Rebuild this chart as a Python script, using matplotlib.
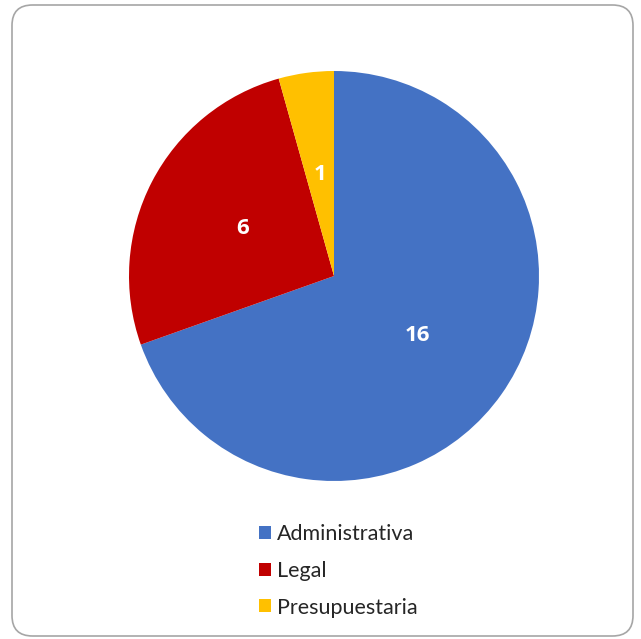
import matplotlib
matplotlib.use("Agg")
import matplotlib.pyplot as plt
from matplotlib.patches import FancyBboxPatch

categories = ["Administrativa", "Legal", "Presupuestaria"]
values = [16, 6, 1]
colors = ["#4472C4", "#C00000", "#FFC000"]

plt.rcParams['font.family'] = ['Lato', 'DejaVu Sans']

W, H = 641, 639
fig = plt.figure(figsize=(W / 100, H / 100), dpi=100)

# rounded border
border = FancyBboxPatch((12 / W, 3 / H), (633 - 12) / W, (635 - 4) / H,
                        boxstyle="round,pad=0,rounding_size=0.032",
                        transform=fig.transFigure, facecolor="none",
                        edgecolor="#A6A6A6", linewidth=1.2, zorder=5)
fig.patches.append(border)

cx, cy, r = 334, 276, 205
ax = fig.add_axes([(cx - r) / W, (H - cy - r) / H, 2 * r / W, 2 * r / H])
wedges, texts, autotexts = ax.pie(
    values, colors=colors, startangle=90, counterclock=False,
    autopct=lambda p: f"{round(p * sum(values) / 100):d}", pctdistance=0.5,
    textprops=dict(color="white", fontsize=16, fontweight="bold",
                   family=["Open Sans", "DejaVu Sans"]),
    wedgeprops=dict(linewidth=0))
ax.set_xlim(-1, 1)
ax.set_ylim(-1, 1)
ax.set_aspect("equal")
ax.axis("off")

leg = fig.legend(wedges, categories, loc="upper left",
                 bbox_to_anchor=(259 / W, 1 - 524 / H), frameon=False,
                 fontsize=15.5, handlelength=0.55, handleheight=0.55,
                 handletextpad=0.3, labelspacing=0.78, borderpad=0,
                 borderaxespad=0)
for t in leg.get_texts():
    t.set_color("#262626")

fig.savefig("out.png", dpi=100)
